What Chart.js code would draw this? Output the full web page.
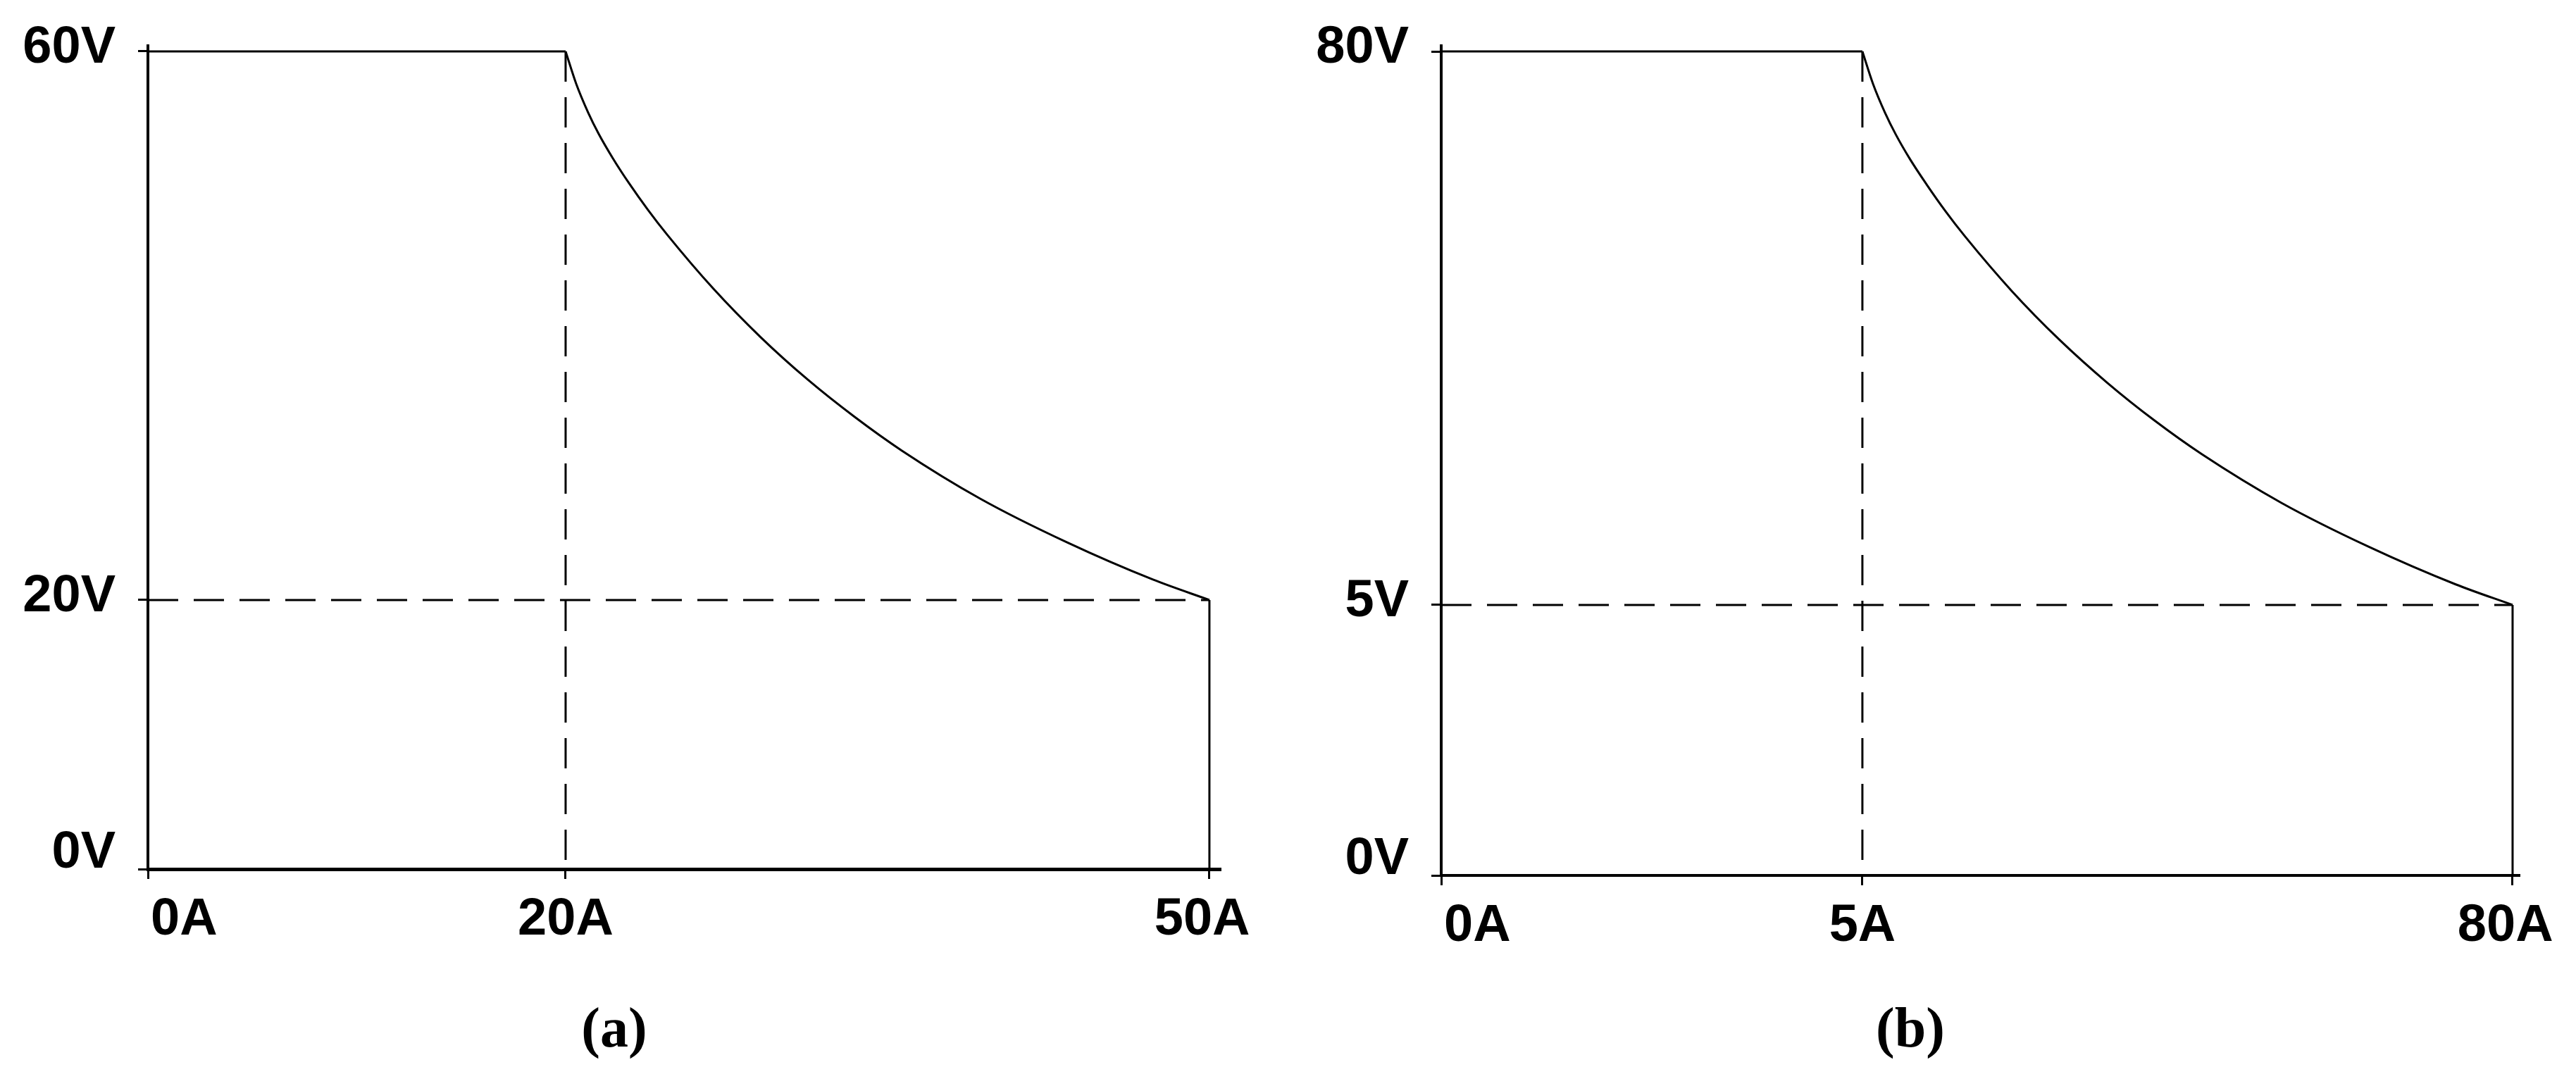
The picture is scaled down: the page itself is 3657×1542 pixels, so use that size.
<!DOCTYPE html>
<html>
<head>
<meta charset="utf-8">
<script src="https://cdn.jsdelivr.net/npm/chart.js@4.4.1/dist/chart.umd.min.js"></script>
<style>
  html, body { margin: 0; padding: 0; background: #fff; }
  body { width: 3657px; height: 1542px; position: relative; overflow: hidden; }
  canvas { position: absolute; top: 0; }
  .legenda { position: absolute; top: 1419px; width: 400px; text-align: center; color: #000;
             font: bold 80px "Liberation Serif", "Times New Roman", serif; line-height: 80px; }
</style>
</head>
<body>
<canvas id="graficoA" width="1800" height="1400" style="left:0;width:1800px;height:1400px"></canvas>
<canvas id="graficoB" width="1857" height="1400" style="left:1800px;width:1857px;height:1400px"></canvas>
<div class="legenda" style="left:672px">(a)</div>
<div class="legenda" style="left:2512px">(b)</div>
<script>
/* (a) fonte 60V / 20A, limite 50A */
const correnteTicksA = [0, 20, 50];
const tensaoTicksA = [0, 20, 60];
const rotulosCorrenteA = ["0A", "20A", "50A"];
const rotulosTensaoA = ["0V", "20V", "60V"];
const curvaCorrenteA = [20, 20.49, 21.05, 21.54, 22.2, 22.95, 23.84, 24.73, 26.89, 29.09, 31.29, 33.46, 35.66, 39.33, 43.37, 47.37, 50];
const curvaTensaoA   = [60, 57.65, 55.54, 53.99, 52.21, 50.4, 48.44, 46.64, 42.69, 39.16, 36.06, 33.36, 30.9, 27.38, 24.2, 21.49, 20];

/* (b) fonte 80V / 5A, limite 80A */
const correnteTicksB = [0, 5, 80];
const tensaoTicksB = [0, 5, 80];
const rotulosCorrenteB = ["0A", "5A", "80A"];
const rotulosTensaoB = ["0V", "5V", "80V"];
const curvaCorrenteB = [5, 6.23, 7.63, 8.86, 10.5, 12.39, 14.6, 16.82, 22.23, 27.73, 33.23, 38.64, 44.14, 53.33, 63.42, 73.44, 80];
const curvaTensaoB   = [80, 75.59, 71.64, 68.73, 65.39, 62.01, 58.33, 54.96, 47.54, 40.93, 35.12, 30.04, 25.44, 18.84, 12.88, 7.79, 5];

/* eixo "esquemático": cada trecho entre marcas tem seu próprio tamanho */
class EscalaPartida extends Chart.LinearScale {
  decimalDoValor(v) {
    const vals = this.options.marcas, fr = this.options.fracoes;
    let i = 1;
    while (i < vals.length - 1 && v > vals[i]) i++;
    return fr[i - 1] + (v - vals[i - 1]) / (vals[i] - vals[i - 1]) * (fr[i] - fr[i - 1]);
  }
  getPixelForValue(v) {
    return v == null ? NaN : this.getPixelForDecimal(this.decimalDoValor(v));
  }
  getValueForPixel(p) {
    const vals = this.options.marcas, fr = this.options.fracoes;
    const d = this.getDecimalForPixel(p);
    let i = 1;
    while (i < fr.length - 1 && d > fr[i]) i++;
    return vals[i - 1] + (d - fr[i - 1]) / (fr[i] - fr[i - 1]) * (vals[i] - vals[i - 1]);
  }
}
EscalaPartida.id = "partida";
EscalaPartida.defaults = Chart.LinearScale.defaults;
Chart.register(EscalaPartida);

const preto = "#000";
const fonteEixo = { family: "'Liberation Sans', Arial, sans-serif", weight: "bold", size: 74 };

function linha(dados, extra) {
  return Object.assign({
    data: dados, showLine: true, borderColor: preto, borderWidth: 3,
    pointRadius: 0, fill: false, clip: false
  }, extra || {});
}

function montarGrafico(id, p) {
  const [i0, iJoelho, iMax] = p.correnteTicks;
  const [v0, vMin, vMax] = p.tensaoTicks;
  const curva = p.curvaCorrente.map((x, k) => ({ x: x, y: p.curvaTensao[k] }));
  const ultimo = p.rotulosCorrente.length - 1;

  return new Chart(document.getElementById(id), {
    type: "scatter",
    data: {
      datasets: [
        linha([{ x: i0, y: vMax }, { x: iJoelho, y: vMax }]),
        linha(curva, { cubicInterpolationMode: "monotone" }),
        linha([{ x: iMax, y: vMin }, { x: iMax, y: v0 }]),
        linha([{ x: iJoelho, y: vMax }, { x: iJoelho, y: v0 }], { borderDash: [43, 22] }),
        linha([{ x: i0, y: vMin }, { x: iMax, y: vMin }], { borderDash: [43, 22] })
      ]
    },
    options: {
      responsive: false,
      animation: false,
      layout: { padding: p.margem },
      plugins: { legend: { display: false }, tooltip: { enabled: false } },
      scales: {
        x: {
          type: "partida", min: i0, max: iMax,
          marcas: p.correnteTicks, fracoes: p.fracX,
          afterBuildTicks: s => { s.ticks = p.correnteTicks.map(v => ({ value: v })); },
          afterFit: s => { s.height = p.alturaX; s.paddingLeft = 0; s.paddingRight = 0; },
          border: { display: true, color: preto, width: p.bordaX },
          grid: { drawOnChartArea: false, drawTicks: true, tickLength: 14, tickWidth: 3, tickColor: preto, color: preto, lineWidth: 3 },
          ticks: {
            color: preto, font: fonteEixo, padding: 14, autoSkip: false, maxRotation: 0, minRotation: 0,
            callback: (v, i) => i === 0 ? "     " + p.rotulosCorrente[i]
                              : i === ultimo ? p.rotulosCorrente[i] + " " : p.rotulosCorrente[i]
          }
        },
        y: {
          type: "partida", min: v0, max: vMax,
          marcas: p.tensaoTicks, fracoes: p.fracY,
          afterBuildTicks: s => { s.ticks = p.tensaoTicks.map(v => ({ value: v })); },
          afterFit: s => { s.width = p.larguraY; s.paddingTop = 0; s.paddingBottom = 0; },
          border: { display: true, color: preto, width: 4 },
          grid: { drawOnChartArea: false, drawTicks: true, tickLength: 14, tickWidth: 3, tickColor: preto, color: preto, lineWidth: 3 },
          ticks: {
            color: preto, padding: 32, labelOffset: -4, autoSkip: false,
            font: ctx => Object.assign({}, fonteEixo, { lineHeight: ctx.index === 0 ? 0.49 : 1.2 }),
            callback: (v, i) => i === 0 ? [p.rotulosTensao[i], ""] : p.rotulosTensao[i]
          }
        }
      }
    }
  });
}

montarGrafico("graficoA", {
  correnteTicks: correnteTicksA, tensaoTicks: tensaoTicksA,
  rotulosCorrente: rotulosCorrenteA, rotulosTensao: rotulosTensaoA,
  curvaCorrente: curvaCorrenteA, curvaTensao: curvaTensaoA,
  margem: { top: 65, right: 68, left: 0, bottom: 0 },
  larguraY: 210, alturaX: 166, bordaX: 5,
  fracX: [0, 0.3896, 0.9901], fracY: [0, 0.3268, 0.9932]
});

montarGrafico("graficoB", {
  correnteTicks: correnteTicksB, tensaoTicks: tensaoTicksB,
  rotulosCorrente: rotulosCorrenteB, rotulosTensao: rotulosTensaoB,
  curvaCorrente: curvaCorrenteB, curvaTensao: curvaTensaoB,
  margem: { top: 65, right: 81, left: 0, bottom: 0 },
  larguraY: 246, alturaX: 157, bordaX: 4,
  fracX: [0, 0.3908, 0.9941], fracY: [0, 0.326, 0.9932]
});
</script>
</body>
</html>
